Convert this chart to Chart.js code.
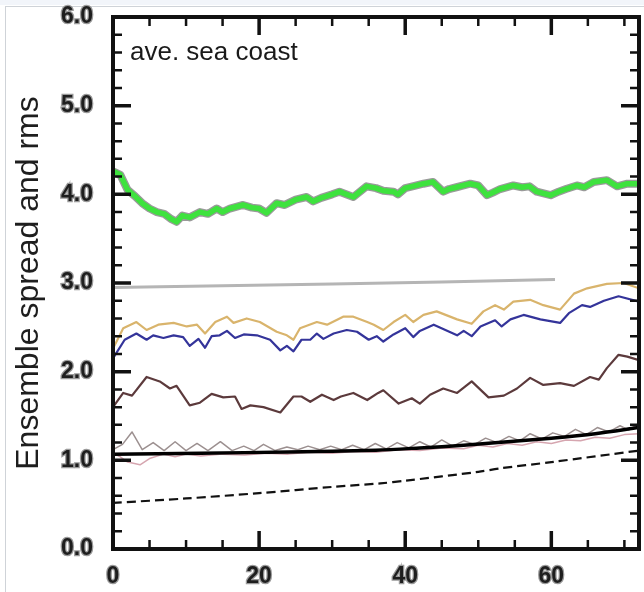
<!DOCTYPE html>
<html>
<head>
<meta charset="utf-8">
<script src="https://cdn.jsdelivr.net/npm/chart.js@4.4.1/dist/chart.umd.min.js"></script>
<style>
  html, body { margin: 0; padding: 0; background: #fff; }
  #wrap { position: relative; width: 644px; height: 592px; overflow: hidden; }
  #edge { position: absolute; left: 5px; top: 6px; width: 700px; height: 700px;
          border-left: 1px solid #cfd3d8; border-top: 1px solid #cfd3d8; }
  #band { position: absolute; left: 0; top: 0; width: 644px; height: 5px; background: #f2f5fa; }
  canvas { position: absolute; left: 0; top: 0; }
</style>
</head>
<body>
<div id="wrap">
  <div id="band"></div>
  <div id="edge"></div>
  <canvas id="c" width="644" height="592"></canvas>
</div>
<script>
// forecast hour vs. ensemble spread / rms, as [hour, value] pairs
const greenSpread = [
  [0,4.26],[1,4.22],[2,4.05],[3,3.98],[4,3.90],[5,3.84],[6,3.80],[7,3.78],[8,3.72],[8.7,3.69],
  [9.5,3.76],[10.5,3.74],[11.9,3.80],[13,3.78],[14.2,3.84],[15,3.80],[16,3.84],[17.8,3.88],[19,3.85],
  [20,3.84],[21,3.79],[22.4,3.90],[23.5,3.88],[25,3.94],[26.5,3.97],[27.4,3.92],[28.5,3.96],[30,4.00],
  [31,4.03],[32.9,3.97],[34.7,4.09],[36,4.07],[37,4.04],[38.4,4.03],[39,4.00],[40,4.07],[41,4.09],
  [42.5,4.12],[43.8,4.14],[45.2,4.03],[46,4.06],[47,4.08],[48.9,4.12],[50,4.10],[51.2,3.99],[52,4.02],
  [53,4.06],[54.8,4.10],[56,4.08],[57,4.09],[58,4.03],[59.9,3.99],[61,4.03],[62,4.06],[63.5,4.10],
  [64.5,4.08],[65.8,4.14],[67.6,4.16],[69,4.09],[70.4,4.12],[72,4.12]
];
const greyLevel = [[0,2.95],[15,2.97],[30,2.99],[45,3.01],[60.5,3.04]];
const tanRms = [
  [0,2.26],[1.4,2.49],[3.2,2.56],[4.6,2.47],[6.2,2.53],[8.3,2.55],[10.1,2.51],[11.5,2.53],[12.6,2.43],
  [14,2.56],[15.6,2.62],[16.5,2.55],[18.3,2.60],[20.1,2.56],[22.4,2.45],[23.8,2.41],[24.7,2.36],
  [25.6,2.49],[27.9,2.56],[29.3,2.53],[31.5,2.62],[32.9,2.62],[34.8,2.56],[35.7,2.53],[37,2.47],
  [38.4,2.56],[40,2.64],[41.1,2.56],[42.5,2.64],[44.3,2.68],[47.1,2.59],[49.1,2.54],[50.7,2.68],
  [52.3,2.75],[53.5,2.70],[54.8,2.79],[57.1,2.81],[58.9,2.75],[61.2,2.70],[63.1,2.88],[64.9,2.94],
  [67.6,2.99],[69.9,3.00],[72,2.94]
];
const blueRms = [
  [0,2.15],[1.6,2.36],[3.2,2.43],[4.6,2.36],[5.5,2.41],[6.9,2.38],[8.3,2.41],[9.6,2.39],[10.5,2.29],
  [11.7,2.37],[12.6,2.27],[13.5,2.40],[14.6,2.41],[15.6,2.46],[16.7,2.38],[17.9,2.42],[19.7,2.41],
  [21.5,2.36],[22.9,2.24],[23.8,2.29],[24.7,2.23],[25.8,2.36],[27,2.36],[27.9,2.43],[28.8,2.37],
  [30.2,2.43],[32,2.47],[33.4,2.45],[35,2.36],[36.1,2.40],[37,2.34],[38.4,2.42],[40,2.49],[41.1,2.39],
  [42,2.46],[43.9,2.53],[47.1,2.41],[48,2.46],[49.1,2.40],[50.3,2.51],[52.3,2.58],[53.2,2.51],
  [54.4,2.59],[56.2,2.64],[58.5,2.59],[61.2,2.55],[62.4,2.66],[64.2,2.75],[65.3,2.73],[67.2,2.80],
  [69.2,2.85],[72,2.79]
];
const brownRms = [
  [0,1.60],[1.4,1.76],[2.6,1.73],[4.6,1.94],[6.4,1.89],[7.8,1.81],[8.7,1.84],[10.5,1.62],[11.9,1.65],
  [13.5,1.75],[15.1,1.71],[16.7,1.72],[17.6,1.58],[18.8,1.62],[20.6,1.60],[22.9,1.54],[24.7,1.72],
  [25.8,1.72],[27,1.66],[28.6,1.74],[30.2,1.68],[31.2,1.72],[32.9,1.76],[34.8,1.68],[36.3,1.76],
  [37,1.79],[39.1,1.64],[40.9,1.70],[42,1.64],[43.4,1.74],[45.2,1.81],[47.1,1.76],[49.1,1.89],
  [51.4,1.71],[53.5,1.73],[55.3,1.81],[57.1,1.93],[58.9,1.85],[61.2,1.87],[63.1,1.84],[65.3,1.94],
  [66.5,1.91],[67.6,2.04],[69.2,2.19],[70.4,2.17],[72,2.13]
];
const greyWave = [
  [0,1.12],[1.3,1.18],[2.6,1.32],[4,1.12],[5.5,1.20],[7,1.11],[8.5,1.21],[10,1.11],[11.5,1.19],
  [13,1.11],[14.7,1.21],[16.3,1.11],[17.9,1.16],[19.3,1.11],[20.6,1.18],[22.2,1.11],[23.8,1.15],
  [25.3,1.12],[26.7,1.16],[28.3,1.12],[29.8,1.16],[31.3,1.12],[32.8,1.17],[34.4,1.12],[35.9,1.19],
  [37.4,1.13],[38.9,1.20],[40.5,1.14],[42,1.21],[43.5,1.15],[45,1.23],[46.5,1.16],[48,1.22],
  [49.5,1.18],[51,1.25],[52.6,1.20],[54.2,1.27],[55.7,1.22],[57.1,1.30],[58.7,1.24],[60.2,1.31],
  [61.8,1.27],[63.3,1.35],[64.8,1.29],[66.3,1.37],[67.9,1.32],[69.4,1.39],[70.6,1.34],[72,1.42]
];
const pinkWave = [
  [0,1.08],[1,1.04],[2,0.98],[3.7,0.95],[5,1.02],[6.9,1.07],[8.5,1.04],[10,1.07],[12,1.05],[15,1.07],
  [18,1.06],[21,1.08],[24,1.07],[27,1.09],[30,1.08],[33,1.10],[36,1.09],[39,1.12],[42,1.11],[45,1.14],
  [48,1.13],[50,1.17],[52,1.15],[54,1.19],[56,1.17],[58,1.21],[60,1.19],[62,1.23],[64,1.22],[66,1.26],
  [68,1.25],[70,1.29],[72,1.30]
];
const blackSolid = [
  [0,1.07],[12,1.08],[24,1.095],[36,1.115],[42,1.14],[48,1.17],[54,1.21],[60,1.25],[66,1.30],[72,1.37]
];
const blackDashed = [
  [0,0.52],[10,0.57],[20,0.63],[30,0.70],[36.6,0.74],[40,0.77],[50,0.87],[53,0.91],[60,0.98],[72,1.11]
];

const xTickLabels = [0, 20, 40, 60];
const yTickLabels = [0, 1, 2, 3, 4, 5, 6];
const panelLabel = 'ave. sea coast';
const yTitle = 'Ensemble spread and rms';

const pts = arr => arr.map(([x, y]) => ({ x, y }));
const line = (data, color, width, extra) => Object.assign({
  data: pts(data), borderColor: color, borderWidth: width, pointRadius: 0,
  tension: 0, fill: false, borderJoinStyle: 'round', borderCapStyle: 'butt'
}, extra || {});

// listed bottom-most first; 'order' makes later entries paint on top
const layers = [
  line(greenSpread, '#9a9a9a', 8),
  line(greenSpread, '#3ee23e', 5.5),
  line(greyLevel, '#b5b5b5', 3),
  line(tanRms, '#d9b46c', 2.2),
  line(blueRms, '#34349a', 2.2),
  line(brownRms, '#5c3a3c', 2.2),
  line(greyWave, '#9c9090', 1.5),
  line(pinkWave, '#d6a6b0', 1.5),
  line(blackSolid, '#000', 3.5, { tension: 0.3 }),
  line(blackDashed, '#111', 2.2, { borderDash: [9, 5], tension: 0.3 })
].map((d, i, all) => Object.assign(d, { order: all.length - i }));

// inward tick marks on all four sides plus a heavy frame
const framePlugin = {
  id: 'frame',
  afterDraw(chart) {
    const { ctx, chartArea: a, scales: { x, y } } = chart;
    ctx.save();
    ctx.strokeStyle = '#111';
    ctx.lineCap = 'butt';
    for (let v = 0; v <= 72.001; v += 5) {
      const px = x.getPixelForValue(v);
      const major = Math.abs(v % 20) < 1e-6;
      const len = major ? 18 : 9;
      ctx.lineWidth = major ? 3.5 : 2.5;
      ctx.beginPath();
      ctx.moveTo(px, a.bottom); ctx.lineTo(px, a.bottom - len);
      ctx.moveTo(px, a.top); ctx.lineTo(px, a.top + len);
      ctx.stroke();
    }
    for (let i = 0; i <= 30; i++) {
      const v = i * 0.2;
      const py = y.getPixelForValue(v);
      const major = i % 5 === 0;
      const len = major ? 18 : 9;
      ctx.lineWidth = major ? 3.5 : 2.5;
      ctx.beginPath();
      ctx.moveTo(a.left, py); ctx.lineTo(a.left + len, py);
      ctx.moveTo(a.right, py); ctx.lineTo(a.right - len, py);
      ctx.stroke();
    }
    ctx.lineWidth = 4;
    ctx.strokeRect(a.left, a.top, a.right - a.left, a.bottom - a.top);
    ctx.fillStyle = '#1a1a1a';
    ctx.font = '26px "Liberation Sans", Arial, sans-serif';
    ctx.textBaseline = 'alphabetic';
    ctx.fillText(panelLabel, a.left + 17, 60);
    ctx.restore();
  }
};

const tickFont = { family: '"Liberation Sans", Arial, sans-serif', size: 23, weight: 'bold' };

new Chart(document.getElementById('c'), {
  type: 'line',
  data: { datasets: layers },
  options: {
    responsive: false,
    animation: false,
    layout: { padding: { top: 17, right: 5, left: 0, bottom: 0 } },
    plugins: { legend: { display: false }, tooltip: { enabled: false } },
    scales: {
      x: {
        type: 'linear', min: 0, max: 72,
        grid: { display: false, drawTicks: false },
        border: { display: false },
        afterBuildTicks: s => { s.ticks = xTickLabels.map(v => ({ value: v })); },
        afterFit: s => { s.height = 43; s.paddingLeft = 0; s.paddingRight = 0; },
        ticks: {
          padding: 14, color: '#1e1e1e', font: tickFont,
          textStrokeColor: '#9a9a9a', textStrokeWidth: 2.5, maxRotation: 0,
          callback: v => String(v)
        }
      },
      y: {
        type: 'linear', min: 0, max: 6,
        grid: { display: false, drawTicks: false },
        border: { display: false },
        afterBuildTicks: s => { s.ticks = yTickLabels.map(v => ({ value: v })); },
        afterFit: s => { s.width = 113; s.paddingTop = 0; s.paddingBottom = 0; },
        ticks: {
          padding: 20, color: '#1e1e1e', font: tickFont,
          textStrokeColor: '#9a9a9a', textStrokeWidth: 2.5,
          callback: v => Number(v).toFixed(1)
        },
        title: {
          display: true, text: yTitle, color: '#1e1e1e',
          font: { family: '"Liberation Sans", Arial, sans-serif', size: 32 },
          padding: { top: 10, bottom: 0 }
        }
      }
    }
  },
  plugins: [framePlugin]
});
</script>
</body>
</html>
